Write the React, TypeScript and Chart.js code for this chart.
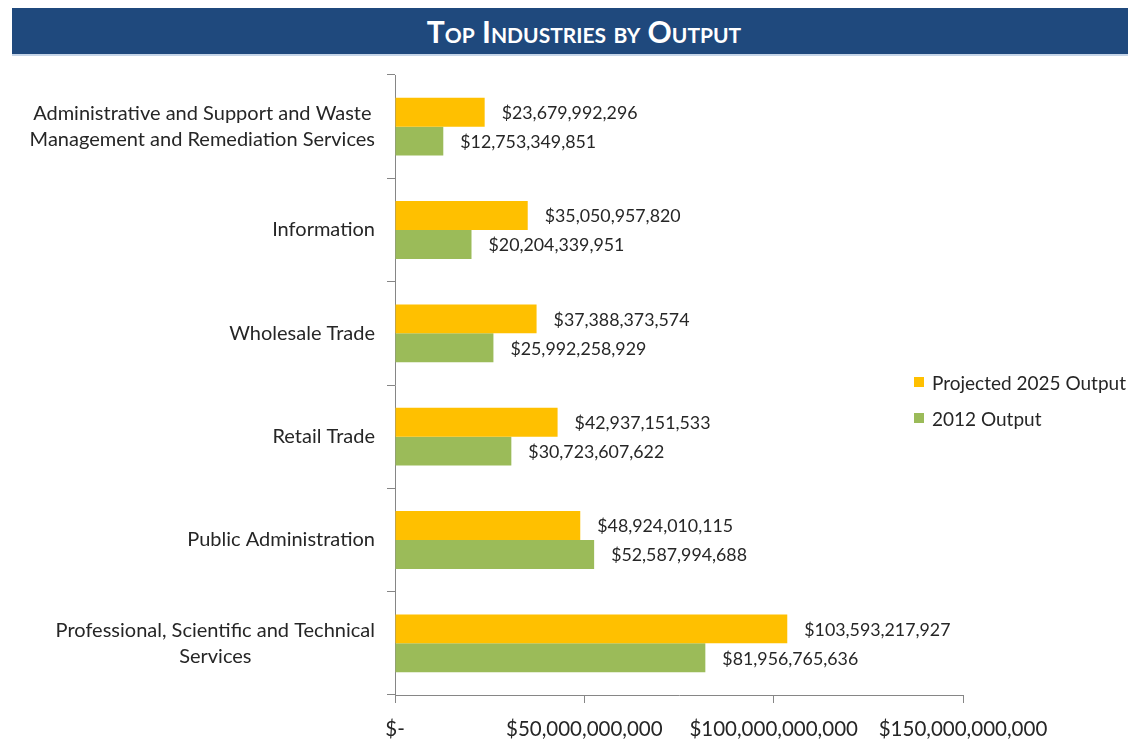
import React, { useEffect, useRef } from 'react';
import { Chart, registerables } from 'chart.js';

Chart.register(...registerables);

const TITLE = 'Top Industries by Output';

const categories: (string | string[])[] = [
  ['Administrative and Support and Waste', 'Management and Remediation Services'],
  'Information',
  'Wholesale Trade',
  'Retail Trade',
  'Public Administration',
  ['Professional, Scientific and Technical', 'Services'],
];

const projected2025 = [23679992296, 35050957820, 37388373574, 42937151533, 48924010115, 103593217927];
const output2012 = [12753349851, 20204339951, 25992258929, 30723607622, 52587994688, 81956765636];

const seriesLabels = ['Projected 2025 Output', '2012 Output'];
const seriesColors = ['#FFC000', '#9BBB59'];

const xMin = 0;
const xMax = 150000000000;
const xStep = 50000000000;

const FONT = "Lato, 'Open Sans', sans-serif";
const TEXT = '#262626';
const AXIS = '#868686';

const money = (v: number) => (v === 0 ? '$-' : '$' + Math.round(v).toLocaleString('en-US'));

const dataLabelPlugin = {
  id: 'dataLabels',
  afterDatasetsDraw(chart: any) {
    const ctx = chart.ctx;
    ctx.save();
    ctx.font = `17.8px ${FONT}`;
    ctx.fillStyle = TEXT;
    ctx.textAlign = 'left';
    ctx.textBaseline = 'middle';
    chart.data.datasets.forEach((ds: any, i: number) => {
      const meta = chart.getDatasetMeta(i);
      meta.data.forEach((el: any, j: number) => {
        ctx.fillText(money(ds.data[j]), el.x + 17, el.y + 1);
      });
    });
    ctx.restore();
  },
};

const yLabelPlugin = {
  id: 'yLabels',
  afterDraw(chart: any) {
    const ctx = chart.ctx;
    const yScale = chart.scales.y;
    const right = chart.chartArea.left - 20;
    ctx.save();
    ctx.font = `20px ${FONT}`;
    ctx.fillStyle = TEXT;
    ctx.textAlign = 'center';
    ctx.textBaseline = 'middle';
    const lh = 26;
    chart.data.labels.forEach((label: any, i: number) => {
      const lines: string[] = Array.isArray(label) ? label : [label];
      const w = Math.max(...lines.map((l) => ctx.measureText(l).width));
      const cx = right - w / 2;
      const y = yScale.getPixelForValue(i);
      const start = y - ((lines.length - 1) * lh) / 2;
      lines.forEach((l, k) => ctx.fillText(l, cx, start + k * lh));
    });
    ctx.restore();
  },
};

export default function App() {
  const canvasRef = useRef<HTMLCanvasElement | null>(null);

  useEffect(() => {
    if (!canvasRef.current) return;
    const chart = new Chart(canvasRef.current, {
      type: 'bar',
      data: {
        labels: categories,
        datasets: [
          {
            label: seriesLabels[0],
            data: projected2025,
            backgroundColor: seriesColors[0],
            categoryPercentage: 0.56,
            barPercentage: 1,
          },
          {
            label: seriesLabels[1],
            data: output2012,
            backgroundColor: seriesColors[1],
            categoryPercentage: 0.56,
            barPercentage: 1,
          },
        ],
      },
      options: {
        indexAxis: 'y',
        animation: false,
        responsive: false,
        maintainAspectRatio: false,
        layout: { padding: { left: 0, right: 165, top: 19, bottom: 0 } },
        plugins: {
          legend: { display: false },
          tooltip: { enabled: false },
          title: { display: false },
        },
        scales: {
          x: {
            min: xMin,
            max: xMax,
            ticks: {
              stepSize: xStep,
              callback: (v: any) => money(Number(v)),
              font: { family: FONT, size: 20.5 },
              color: TEXT,
              padding: 14,
              maxRotation: 0,
            },
            grid: { drawOnChartArea: false, drawTicks: true, tickLength: 8, color: AXIS },
            border: { color: AXIS },
            afterFit: (scale: any) => {
              scale.height = 44;
            },
          },
          y: {
            ticks: { display: false },
            grid: { drawOnChartArea: false, drawTicks: true, tickLength: 8, color: AXIS, offset: true },
            border: { color: AXIS },
            afterFit: (scale: any) => {
              scale.width = 395;
            },
          },
        },
      },
      plugins: [dataLabelPlugin, yLabelPlugin],
    } as any);
    return () => chart.destroy();
  }, []);

  return (
    <div
      style={{
        position: 'fixed',
        left: 0,
        top: 0,
        width: 1128,
        height: 739,
        overflow: 'hidden',
        background: '#ffffff',
        fontFamily: FONT,
      }}
    >
      <div
        style={{
          position: 'absolute',
          left: 12,
          top: 8,
          width: 1144,
          height: 46,
          background: '#1F497D',
          borderBottom: '2px solid #C6D5E8',
          color: '#ffffff',
          fontWeight: 700,
          fontVariant: 'small-caps',
          fontSize: 30,
          lineHeight: '46px',
          textAlign: 'center',
          whiteSpace: 'nowrap',
        }}
      >
        {TITLE}
      </div>
      <canvas
        ref={canvasRef}
        width={1128}
        height={683}
        style={{ position: 'absolute', left: 0, top: 56, width: 1128, height: 683 }}
      />
      <div style={{ position: 'absolute', left: 914, top: 364, whiteSpace: 'nowrap' }}>
        {seriesLabels.map((name, i) => (
          <div key={name} style={{ display: 'flex', alignItems: 'center', height: 36 }}>
            <span
              style={{
                display: 'inline-block',
                width: 10,
                height: 10,
                background: seriesColors[i],
                marginRight: 8,
              }}
            />
            <span style={{ fontSize: 19, color: TEXT }}>{name}</span>
          </div>
        ))}
      </div>
    </div>
  );
}
